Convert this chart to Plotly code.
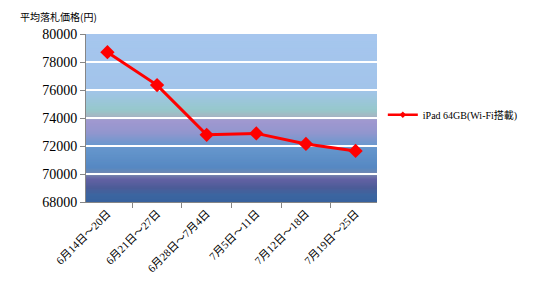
import plotly.graph_objects as go

categories = ["6月14日～20日", "6月21日～27日", "6月28日～7月4日",
              "7月5日～11日", "7月12日～18日", "7月19日～25日"]
prices = [78700, 76350, 72800, 72900, 72150, 71650]
series_name = "iPad 64GB(Wi-Fi搭載)"
y_title = "平均落札価格(円)"
y_ticks = [68000, 70000, 72000, 74000, 76000, 78000, 80000]

# background gradient stops (value, rgb)
stops = [
    (80000, (166, 198, 238)),
    (76000, (162, 196, 234)),
    (74600, (150, 200, 204)),
    (74150, (164, 184, 194)),
    (73800, (160, 152, 208)),
    (72950, (146, 150, 206)),
    (72000, (104, 152, 206)),
    (70450, (86, 136, 194)),
    (69950, (120, 134, 174)),
    (69650, (100, 98, 164)),
    (69000, (76, 92, 152)),
    (68500, (60, 102, 160)),
    (68000, (56, 98, 158)),
]

def color_at(v):
    for (v1, c1), (v2, c2) in zip(stops, stops[1:]):
        if v2 <= v <= v1:
            t = (v1 - v) / (v1 - v2) if v1 != v2 else 0
            c = [round(a + (b - a) * t) for a, b in zip(c1, c2)]
            return "rgb(%d,%d,%d)" % tuple(c)
    return "rgb(56,98,158)"

shapes = []
step = 50
v = 68000
while v < 80000:
    shapes.append(dict(type="rect", xref="paper", yref="y", x0=0, x1=1,
                       y0=v, y1=min(v + step * 2.5, 80000),
                       fillcolor=color_at(v + step / 2),
                       line=dict(width=0), layer="below"))
    v += step

font_serif = "Liberation Serif, DejaVu Serif, Noto Sans CJK JP, serif"

fig = go.Figure()
fig.add_trace(go.Scatter(
    x=categories, y=prices, mode="lines+markers", name=series_name,
    line=dict(color="#ff0000", width=3),
    marker=dict(symbol="diamond", size=11, color="#ff0000"),
    showlegend=False,
))
# legend entry (smaller symbol, like the reference)
fig.add_trace(go.Scatter(
    x=[None], y=[None], mode="lines+markers", name=series_name,
    line=dict(color="#ff0000", width=2.5),
    marker=dict(symbol="diamond", size=5, color="#ff0000"),
    showlegend=True,
))

fig.update_layout(
    width=537, height=303,
    margin=dict(l=86, r=160, t=34, b=101),
    paper_bgcolor="white", plot_bgcolor="rgba(0,0,0,0)",
    shapes=shapes,
    showlegend=True,
    legend=dict(x=1.02, y=0.52, xanchor="left", yanchor="middle",
                font=dict(family=font_serif, size=10, color="black"),
                bgcolor="rgba(0,0,0,0)", itemwidth=30),
    annotations=[dict(text=y_title, xref="paper", yref="paper",
                      x=-0.234, y=1.107, xanchor="left", yanchor="middle",
                      showarrow=False,
                      font=dict(family="Noto Sans CJK JP", size=10, color="black"))],
)
fig.update_xaxes(
    type="category", tickangle=-45, tickson="boundaries",
    ticks="outside", ticklen=5, tickcolor="#868686",
    showline=True, linecolor="#868686", linewidth=1,
    showgrid=False,
    tickfont=dict(family=font_serif, size=11, color="black"),
)
fig.update_yaxes(
    range=[68000, 80000], tickvals=y_ticks, tickformat="d",
    ticks="outside", ticklen=5, tickcolor="#868686",
    showline=True, linecolor="#868686", linewidth=1,
    showgrid=True, gridcolor="white", gridwidth=1.5,
    zeroline=False,
    tickfont=dict(family=font_serif, size=14, color="black"),
)

fig.write_html("out.html")
